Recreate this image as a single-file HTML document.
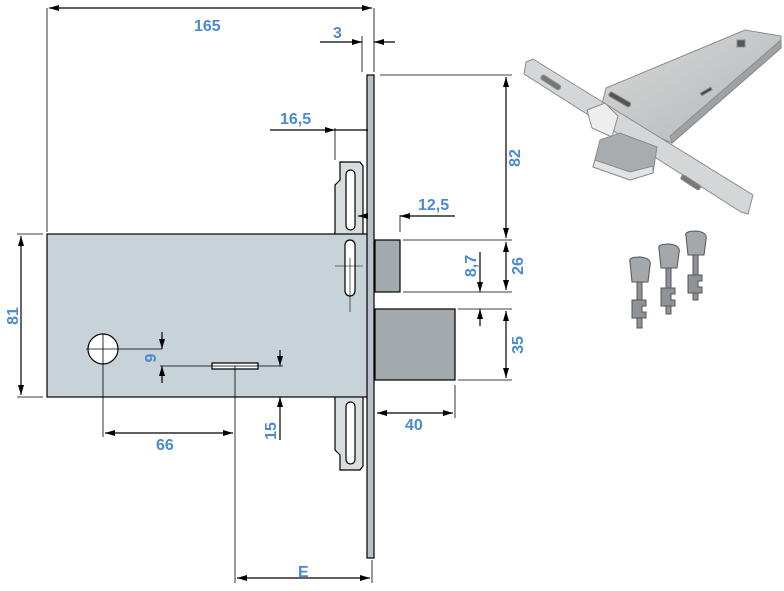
<!DOCTYPE html>
<html><head><meta charset="utf-8"><style>
html,body{margin:0;padding:0;background:#fff;width:784px;height:591px;overflow:hidden}
svg{display:block}
text{font-family:"Liberation Sans",Arial,sans-serif;font-weight:bold;font-size:16px;fill:#4a8ad0}
</style></head><body>
<svg width="784" height="591" viewBox="0 0 784 591" xmlns="http://www.w3.org/2000/svg">
<defs>
<marker id="a" viewBox="0 0 10 6" refX="10" refY="3" markerWidth="10" markerHeight="6" orient="auto-start-reverse" markerUnits="userSpaceOnUse"><path d="M0,0L10,3L0,6z" fill="#000"/></marker>
<linearGradient id="g1" x1="0" y1="0" x2="1" y2="1"><stop offset="0" stop-color="#d8d8d8"/><stop offset="1" stop-color="#b4b6b8"/></linearGradient>
</defs>
<g stroke="#000" stroke-width="1.2" fill="none">
<path d="M335,234 V185 L340,180 V162 H360 L363,166 V234" fill="#d8dde0"/>
<rect x="346" y="170" width="9" height="60" rx="4.5" fill="#fff"/>
<path d="M335,397 V450 L340,455 V470 H360 L363,466 V397" fill="#d8dde0"/>
<rect x="346" y="402" width="9" height="62" rx="4.5" fill="#fff"/>
<rect x="47" y="234" width="321" height="163" fill="#c7d2d9"/>
<rect x="345" y="240" width="10" height="56" rx="5" fill="#fff"/>
<path d="M335,266 H363 M350,258 V312" stroke-width="0.6"/>
<rect x="367" y="75" width="7" height="483" fill="#b9c2c8"/>
<rect x="375" y="240" width="25" height="52" fill="#a3abae"/>
<rect x="375" y="309" width="80" height="71" fill="#a3abae"/>
<circle cx="103" cy="349" r="15" fill="#fff"/>
<path d="M86,349 H162 M103,334 V437" stroke-width="0.8"/>
<path d="M212,363 H258 V369 H212 Z" fill="#fff"/>
<path d="M160,366 H283 M235,366 V583" stroke-width="0.8"/>
<path d="M47,8 V232 M374,8 V72 M362,36 V72 M335,128 V160 M400,215 V232 M380,75 H512 M403,240 H512 M403,292 H512 M458,309 H512 M458,380 H512 M17,234 H43 M17,397 H43 M455,385 V418 M372,560 V583" stroke-width="0.8"/>
</g>
<g stroke="#000" stroke-width="1.2" fill="none">
<line x1="49" y1="8" x2="372" y2="8" marker-start="url(#a)" marker-end="url(#a)"/>
<line x1="320" y1="42" x2="362" y2="42" marker-end="url(#a)"/>
<line x1="395" y1="42" x2="374" y2="42" marker-end="url(#a)"/>
<line x1="270" y1="130" x2="335" y2="130" marker-end="url(#a)"/>
<line x1="335" y1="130" x2="368" y2="130"/>
<line x1="368" y1="216" x2="358" y2="216" marker-end="url(#a)"/>
<line x1="455" y1="216" x2="400" y2="216" marker-end="url(#a)"/>
<line x1="506" y1="77" x2="506" y2="238" marker-start="url(#a)" marker-end="url(#a)"/>
<line x1="506" y1="242" x2="506" y2="290" marker-start="url(#a)" marker-end="url(#a)"/>
<line x1="506" y1="311" x2="506" y2="378" marker-start="url(#a)" marker-end="url(#a)"/>
<line x1="480" y1="252" x2="480" y2="292" marker-end="url(#a)"/>
<line x1="480" y1="326" x2="480" y2="309" marker-end="url(#a)"/>
<line x1="21" y1="236" x2="21" y2="395" marker-start="url(#a)" marker-end="url(#a)"/>
<line x1="162" y1="332" x2="162" y2="349" marker-end="url(#a)"/>
<line x1="162" y1="383" x2="162" y2="366" marker-end="url(#a)"/>
<line x1="280" y1="350" x2="280" y2="366" marker-end="url(#a)"/>
<line x1="280" y1="440" x2="280" y2="397" marker-end="url(#a)"/>
<line x1="105" y1="433" x2="233" y2="433" marker-start="url(#a)" marker-end="url(#a)"/>
<line x1="377" y1="413" x2="453" y2="413" marker-start="url(#a)" marker-end="url(#a)"/>
<line x1="237" y1="578" x2="370" y2="578" marker-start="url(#a)" marker-end="url(#a)"/>
</g>
<text x="194" y="31">165</text>
<text x="333" y="38">3</text>
<text x="280" y="124">16,5</text>
<text x="418" y="210">12,5</text>
<text x="156" y="450">66</text>
<text x="405" y="430">40</text>
<text x="298" y="577">E</text>
<text transform="translate(18,316) rotate(-90)" text-anchor="middle">81</text>
<text transform="translate(520,158) rotate(-90)" text-anchor="middle">82</text>
<text transform="translate(523,266) rotate(-90)" text-anchor="middle">26</text>
<text transform="translate(523,345) rotate(-90)" text-anchor="middle">35</text>
<text transform="translate(476,266) rotate(-90)" text-anchor="middle">8,7</text>
<text transform="translate(156,358) rotate(-90)" text-anchor="middle">9</text>
<text transform="translate(276,431) rotate(-90)" text-anchor="middle">15</text>
<!-- lock photo -->
<g stroke="#8a8c8e" stroke-width="1">
<polygon points="606,88 745,30 781,36 781,48 672,143 600,112" fill="url(#g1)"/>
<polygon points="672,143 781,48 781,40 670,136" fill="#9fa2a4"/>
<polygon points="526,62 533,59 753,195 748,214 741,212 524,74" fill="#d4d6d7"/>
<polygon points="587,110 605,103 618,116 612,137 592,128" fill="#eeeeee"/>
<polygon points="600,140 620,133 657,147 653,173 630,180 593,167" fill="#a9acae"/>
<polygon points="593,167 630,180 653,173 653,166 630,172 595,160" fill="#e2e3e4"/>
<rect x="608" y="97" width="24" height="5" rx="2" fill="#555" transform="rotate(30 620 99)"/>
<rect x="540" y="80" width="22" height="5" rx="2" fill="#777" transform="rotate(33 551 82)"/>
<rect x="680" y="180" width="22" height="5" rx="2" fill="#777" transform="rotate(33 691 182)"/>
<rect x="700" y="90" width="12" height="3" fill="#444" transform="rotate(-30 706 91)"/>
<rect x="737" y="40" width="8" height="7" fill="#555"/>
</g>
<!-- keys -->
<g stroke="#555" stroke-width="1">
<path d="M630,262 Q628,257 640,257 Q652,258 650,266 L648,282 L632,282 Z" fill="#a4a8ab"/>
<rect x="637" y="282" width="5" height="46" fill="#8f9397"/>
<path d="M632,300 H646 V306 H642 V312 H646 V318 H632 Z" fill="#8f9397"/>
<path d="M659,249 Q657,244 669,244 Q681,245 679,253 L677,268 L661,268 Z" fill="#a4a8ab"/>
<rect x="666" y="268" width="5" height="46" fill="#8f9397"/>
<path d="M661,288 H675 V294 H671 V300 H675 V306 H661 Z" fill="#8f9397"/>
<path d="M686,236 Q684,231 696,231 Q708,232 706,240 L704,255 L688,255 Z" fill="#a4a8ab"/>
<rect x="693" y="255" width="5" height="45" fill="#8f9397"/>
<path d="M688,275 H702 V281 H698 V287 H702 V293 H688 Z" fill="#8f9397"/>
</g>
</svg>
</body></html>
